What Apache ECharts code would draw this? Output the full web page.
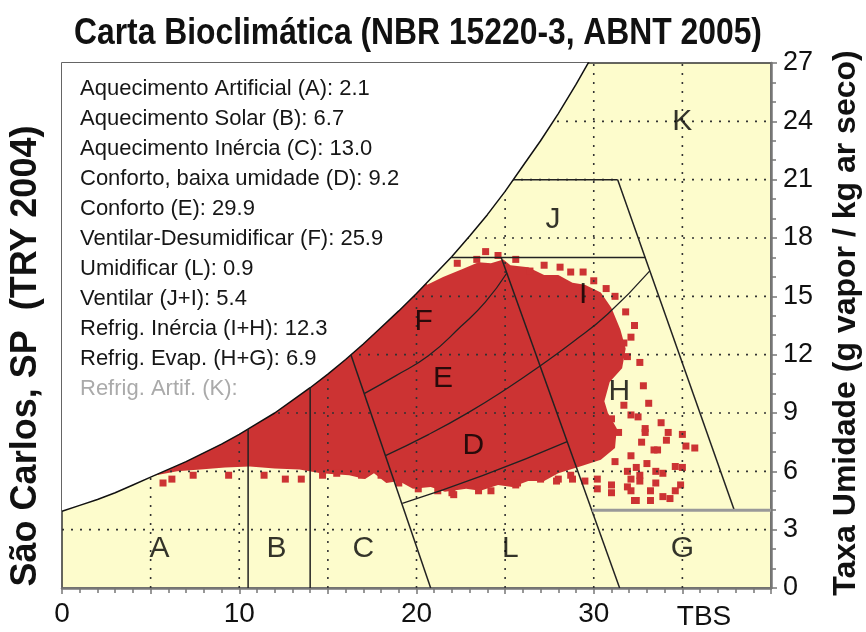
<!DOCTYPE html>
<html>
<head>
<meta charset="utf-8">
<script src="https://cdn.jsdelivr.net/npm/echarts@6/dist/echarts.min.js"></script>
<style>
  html, body { margin: 0; padding: 0; background: #fff; }
  #chart { width: 866px; height: 632px; }
</style>
</head>
<body>
<div id="chart"></div>
<script>
// saturation curve (TBS in C, g vapor / kg ar seco)
const satTemp = [0, 1, 2, 3, 4, 5, 6, 7, 8, 9, 10, 11, 12, 13, 14, 15, 16, 17, 18, 19, 20, 21, 22, 23, 24, 25, 26, 27, 28, 29, 30];
const satHum = [3.95, 4.25, 4.55, 4.9, 5.3, 5.7, 6.1, 6.5, 6.95, 7.4, 7.9, 8.45, 9.0, 9.65, 10.3, 11.0, 11.75, 12.55, 13.4, 14.25, 15.15, 16.1, 17.05, 18.1, 19.2, 20.4, 21.7, 23.0, 24.4, 25.9, 27.5];

// dotted reference grid
const gridTemp = [5, 10, 15, 20, 25, 30, 35];
const gridHum = [3, 6, 9, 12, 15, 18, 21, 24];

// outline of the dense part of the hourly cloud (lower edge, then right and top edge)
const cloudEdge = [
  [5.3, 5.8], [6.5, 6.0], [7.8, 6.1], [9.2, 6.2], [10.6, 6.25], [12.0, 6.15], [13.4, 6.1], [14.6, 5.9],
  [16.2, 5.8], [17.1, 5.6], [17.6, 5.9], [18.3, 5.4], [19.0, 5.5], [19.8, 5.1], [20.8, 5.2], [21.6, 4.95],
  [22.8, 5.1], [23.6, 5.0], [24.6, 5.3], [25.4, 5.2], [26.3, 5.5], [27.2, 5.5], [28.0, 5.9], [29.4, 6.3],
  [30.4, 6.6], [31.2, 7.2], [31.3, 8.2], [30.8, 9.0], [30.6, 9.6], [30.9, 10.6], [31.6, 11.3], [31.8, 12.3],
  [31.5, 13.3], [31.0, 14.4], [30.4, 15.2], [29.5, 15.6], [28.8, 15.7], [28.0, 16.1], [27.2, 16.1],
  [26.3, 16.5], [25.3, 16.6], [24.9, 16.9], [24.2, 16.7], [23.5, 16.75], [22.6, 16.4], [21.5, 16.0], [20.6, 15.6],
  [18, 22], [4, 22], [4, 5.9]
];
// loose hourly points around the edge of the cloud
const cloudPoints = [
  [23.9, 17.3], [24.6, 17.1], [23.4, 16.9], [26.4, 16.3], [28.7, 16.25], [29.4, 16.25], [30.7, 15.4],
  [22.3, 16.7], [25.6, 16.9], [27.2, 16.6], [28.1, 16.5], [30.0, 15.8], [31.2, 15.0], [31.8, 14.2], [32.1, 12.9],
  [32.3, 13.5], [32.6, 11.6], [31.9, 11.9], [31.7, 12.6], [32.8, 10.4], [33.1, 9.5],
  [32.1, 8.9], [32.9, 8.2], [33.4, 7.1], [32.6, 5.8], [32.1, 5.0], [33.2, 5.0], [32.4, 4.5], [31.0, 5.3],
  [30.2, 5.6], [29.5, 5.5], [28.7, 5.8], [28.0, 5.6], [27.0, 5.6], [25.6, 5.3], [24.4, 5.5], [23.5, 5.0],
  [22.0, 4.9], [31.9, 6.0], [31.2, 6.5], [32.1, 6.8], [31.4, 8.0], [31.0, 8.7], [31.7, 9.4], [32.5, 8.8],
  [32.3, 4.5], [33.2, 4.5], [34.3, 4.6], [34.6, 5.0], [35.0, 7.9], [35.7, 7.2], [35.2, 7.3], [35.0, 6.2],
  [34.6, 6.25], [33.6, 7.1], [33.8, 8.5], [32.9, 8.0], [32.1, 5.6], [32.6, 5.5], [33.5, 5.4], [31.9, 5.2],
  [31.0, 4.9], [30.2, 5.1], [28.8, 5.6], [27.9, 5.5], [25.7, 5.4], [24.2, 5.0], [22.1, 4.8],
  [33.0, 6.4], [34.1, 7.6], [33.9, 5.9], [34.9, 5.3], [32.7, 7.5], [33.5, 6.0], [34.2, 8.0], [32.4, 6.2], [33.9, 4.7],
  [5.7, 5.4], [6.2, 5.6], [7.4, 5.8], [9.4, 5.8], [11.4, 5.8], [12.6, 5.6], [13.5, 5.6], [14.7, 5.8],
  [15.5, 5.9], [16.9, 5.8], [18.0, 5.8], [19.0, 5.4], [20.1, 5.1], [21.2, 5.0]
];

// zone boundaries
const lineAB = [[10.5, 0], [10.5, 8.18]];
const lineBC = [[14, 0], [14, 10.3]];
const lineC = [[16.3, 12.0], [20.8, 0]];
const curveFE = [[17.05, 10.0], [18.82, 10.91], [20.67, 11.94], [22.53, 13.47], [23.88, 14.7], [25.1, 16.2]];
const curveEDIH = [[18.25, 6.81], [20.67, 7.89], [22.92, 9.02], [25.17, 10.3], [26.97, 11.42], [28.82, 12.65], [30.79, 14.09], [33.15, 16.3]];
const lineDlow = [[19.2, 4.35], [23.76, 5.79], [28.5, 7.53]];
const lineEI = [[24.78, 17.0], [31.46, 0]];
const lineJlow = [[21.95, 17.0], [32.9, 17.0]];
const lineJtop = [[25.46, 21.0], [31.35, 21.0]];
const lineK = [[31.35, 21.0], [37.93, 4.0]];
const lineG = [[29.9, 4.0], [40, 4.0]];

const zoneNames = ['A', 'B', 'C', 'L', 'G', 'D', 'E', 'F', 'H', 'I', 'J', 'K'];
const zonePos = [[5.5, 2.0], [12.1, 2.0], [17.0, 2.0], [25.3, 2.0], [35.0, 2.0], [23.2, 7.3], [21.5, 10.75], [20.4, 13.7], [31.45, 10.1], [29.4, 15.1], [27.7, 18.95], [35.0, 24.0]];

const statLines = [
  'Aquecimento Artificial (A): 2.1',
  'Aquecimento Solar (B): 6.7',
  'Aquecimento Inércia (C): 13.0',
  'Conforto, baixa umidade (D): 9.2',
  'Conforto (E): 29.9',
  'Ventilar-Desumidificar (F): 25.9',
  'Umidificar (L): 0.9',
  'Ventilar (J+I): 5.4',
  'Refrig. Inércia (I+H): 12.3',
  'Refrig. Evap. (H+G): 6.9',
  'Refrig. Artif. (K):'
];

const REG = '"Liberation Sans", Arial, sans-serif';
const RED = '#cc3333';
const YELLOW = '#fdfccc';

const chart = echarts.init(document.getElementById('chart'));

function polygonSeries(pts, color, z) {
  return {
    type: 'custom', coordinateSystem: 'cartesian2d', data: [[0, 0]], z: z, silent: true, clip: true,
    renderItem: function (params, api) {
      return { type: 'polygon', shape: { points: pts.map(p => api.coord(p)) }, style: { fill: color } };
    }
  };
}
function lineSeries(pts, color, width, smooth) {
  return {
    type: 'line', data: pts, symbol: 'none', smooth: !!smooth, silent: true, z: 6,
    lineStyle: { color: color, width: width }
  };
}

const satPts = satTemp.map((t, i) => [t, satHum[i]]);
const abovePts = satPts.concat([[30, 27.5], [0, 27.5]]);

// dense cloud + fringe points + dotted grid drawn in one group so the dots sit on top of the red
const cloudSeries = {
  type: 'custom', coordinateSystem: 'cartesian2d', data: [[0, 0]], z: 2, silent: true, clip: true,
  renderItem: function (params, api) {
    const children = [{ type: 'polygon', shape: { points: cloudEdge.map(p => api.coord(p)) }, style: { fill: RED } }];
    cloudPoints.forEach(p => {
      const c = api.coord(p);
      children.push({ type: 'rect', shape: { x: c[0] - 3.5, y: c[1] - 3.5, width: 7, height: 7 }, style: { fill: RED } });
    });
    const dash = { stroke: '#333', lineWidth: 1.6, lineDash: [2, 7], fill: null };
    gridTemp.forEach(t => children.push({ type: 'polyline', shape: { points: [api.coord([t, 0]), api.coord([t, 27])] }, style: dash }));
    gridHum.forEach(h => children.push({ type: 'polyline', shape: { points: [api.coord([0, h]), api.coord([40, h])] }, style: dash }));
    return { type: 'group', children: children };
  }
};

const graphics = [
  { type: 'text', x: 418, y: 34, scaleX: 0.86, style: { text: 'Carta Bioclimática (NBR 15220-3, ABNT 2005)', fontSize: 37, fontWeight: 'bold', fontFamily: REG, fill: '#111', align: 'center', verticalAlign: 'middle' } },
  { type: 'text', x: 26, y: 356, rotation: Math.PI / 2, style: { text: 'São Carlos, SP  (TRY 2004)', fontSize: 36, fontWeight: 'bold', fontFamily: REG, fill: '#111', align: 'center', verticalAlign: 'middle' } },
  { type: 'text', x: 846, y: 323, rotation: Math.PI / 2, style: { text: 'Taxa Umidade (g vapor / kg ar seco)', fontSize: 32, fontWeight: 'bold', fontFamily: REG, fill: '#111', align: 'center', verticalAlign: 'middle' } },
  { type: 'text', x: 704, y: 617, style: { text: 'TBS', fontSize: 28, fontFamily: REG, fill: '#111', align: 'center', verticalAlign: 'middle' } }
];
statLines.forEach((s, i) => {
  graphics.push({ type: 'text', x: 80, y: 89 + 30 * i, z: 10, style: { text: s, fontSize: 22, fontFamily: REG, fill: i === statLines.length - 1 ? '#aaaaaa' : '#161616', align: 'left', verticalAlign: 'middle' } });
});

chart.setOption({
  animation: false,
  grid: { left: 62, right: 95, top: 63, bottom: 44, show: true, backgroundColor: YELLOW, borderColor: '#333', borderWidth: 1.5 },
  xAxis: {
    type: 'value', min: 0, max: 40, interval: 5,
    axisLine: { show: true, onZero: false, lineStyle: { color: '#777', width: 2.5 } },
    axisTick: { show: true, length: 6, lineStyle: { color: '#777', width: 1.5 } },
    minorTick: { show: true, splitNumber: 5, length: 5, lineStyle: { color: '#777', width: 1.5 } },
    axisLabel: { fontSize: 28, fontFamily: REG, color: '#111', margin: 12,
      formatter: v => (v % 10 === 0 && v < 40) ? String(v) : '' },
    splitLine: { show: false }
  },
  yAxis: {
    type: 'value', position: 'right', min: 0, max: 27, interval: 3,
    axisLine: { show: true, onZero: false, lineStyle: { color: '#777', width: 2.5 } },
    axisTick: { show: true, length: 6, lineStyle: { color: '#777', width: 1.5 } },
    minorTick: { show: true, splitNumber: 3, length: 5, lineStyle: { color: '#777', width: 1.5 } },
    axisLabel: { fontSize: 27, fontFamily: REG, color: '#111', margin: 12 },
    splitLine: { show: false }
  },
  graphic: graphics,
  series: [
    cloudSeries,
    polygonSeries(abovePts, '#ffffff', 4),
    lineSeries(satPts, '#111', 1.5),
    lineSeries(lineAB, '#222', 1.5),
    lineSeries(lineBC, '#222', 1.5),
    lineSeries(lineC, '#222', 1.5),
    lineSeries(curveFE, '#222', 1.3, true),
    lineSeries(curveEDIH, '#222', 1.3, true),
    lineSeries(lineDlow, '#222', 1.3, true),
    lineSeries(lineEI, '#222', 1.5),
    lineSeries(lineJlow, '#222', 1.5),
    lineSeries(lineJtop, '#222', 1.5),
    lineSeries(lineK, '#222', 1.5),
    lineSeries(lineG, '#999', 3),
    {
      type: 'scatter', z: 8, silent: true, symbolSize: 1, itemStyle: { color: 'rgba(0,0,0,0)' },
      data: zonePos.map((p, i) => ({ value: p, name: zoneNames[i] })),
      label: { show: true, position: 'inside', formatter: '{b}', fontSize: 30, fontFamily: REG, color: '#000' }
    }
  ]
});
</script>
</body>
</html>
